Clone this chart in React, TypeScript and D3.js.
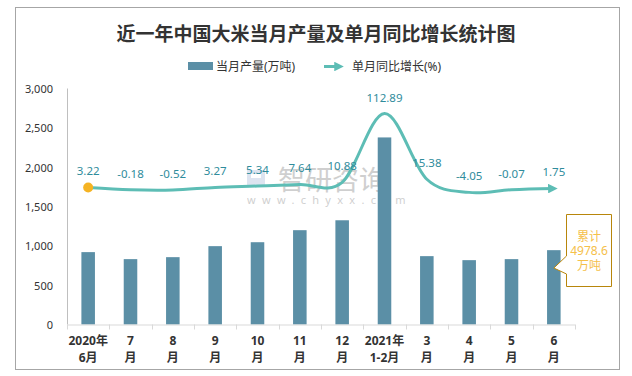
import React from "react";
import * as d3 from "d3";

const categoriesTop = ["2020年", "7", "8", "9", "10", "11", "12", "2021年", "3", "4", "5", "6"];
const categoriesBottom = ["6月", "月", "月", "月", "月", "月", "月", "1-2月", "月", "月", "月", "月"];
const production = [920, 831, 856, 996, 1046, 1199, 1325, 2378, 869, 818, 831, 945];
const growth = [3.22, -0.18, -0.52, 3.27, 5.34, 7.64, 10.88, 112.89, 15.38, -4.05, -0.07, 1.75];
const yTicks = [0, 500, 1000, 1500, 2000, 2500, 3000];

const W = 632;
const H = 376;
const left = 67;
const right = 575;
const top = 88.5;
const bottom = 324.5;

const cjk = "'Noto Sans', 'Noto Sans CJK SC', sans-serif";

export default function App() {
  const idx = production.map((_, i) => String(i));
  const x = d3.scaleBand<string>().domain(idx).range([left, right]).paddingInner(0).paddingOuter(0);
  const y = d3.scaleLinear().domain([0, 3000]).range([bottom, top]);
  const y2 = d3.scaleLinear().domain([-200, 150]).range([bottom, top]);
  const bw = x.bandwidth() * 0.32;
  const cx = (i: number) => (x(String(i)) as number) + x.bandwidth() / 2;

  const line = d3
    .line<number>()
    .x((_, i) => cx(i))
    .y((d) => y2(d))
    .curve(d3.curveCardinal.tension(0));
  const pathD = line(growth) || "";

  const lineColor = "#5dbdb5";
  const labelColor = "#2f8c9c";
  const barColor = "#5b8fa6";

  const lastX = cx(11);

  return (
    <svg width={W} height={H} style={{ position: "absolute", left: 0, top: 0, background: "#fff" }}>
      <defs>
        <marker id="arr" viewBox="0 0 10 10" refX="6" refY="5" markerWidth="3.2" markerHeight="3.2" orient="auto" markerUnits="strokeWidth">
          <path d="M0,0 L10,5 L0,10 Z" fill={lineColor} />
        </marker>
      </defs>
      <rect x={15.5} y={7.5} width={604} height={362} fill="#fff" stroke="#a6a6a6" strokeWidth={1} />

      <text x={316} y={32} textAnchor="middle" dominantBaseline="central" fontFamily="'Noto Sans CJK SC', serif" fontWeight="bold" fontSize={19} fill="#333">
        近一年中国大米当月产量及单月同比增长统计图
      </text>

      {/* legend */}
      <rect x={188} y={62} width={25} height={8} fill={barColor} />
      <text x={216} y={66.5} dominantBaseline="central" fontFamily={cjk} fontSize={12} fill="#333">
        当月产量(万吨)
      </text>
      <line x1={324} y1={66.5} x2={340} y2={66.5} stroke={lineColor} strokeWidth={3} markerEnd="url(#arr)" />
      <text x={352} y={66.5} dominantBaseline="central" fontFamily={cjk} fontSize={12} fill="#333">
        单月同比增长(%)
      </text>

      {/* y axis */}
      <line x1={left + 0.5} y1={top} x2={left + 0.5} y2={bottom} stroke="#bfbfbf" />
      {yTicks.map((t) => (
        <text key={t} x={53} y={y(t)} textAnchor="end" dominantBaseline="central" fontFamily={cjk} fontSize={11} fill="#333">
          {d3.format(",")(t)}
        </text>
      ))}

      {/* watermark */}
      <g opacity={0.35}>
        <rect x={247} y={170} width={18} height={16} fill="#9fb4d6" />
        <rect x={251} y={174} width={10} height={4} fill="#fff" />
        <text x={278} y={178} dominantBaseline="central" fontFamily="'Noto Sans CJK SC', sans-serif" fontSize={27} fill="#777">
          智研咨询
        </text>
        <text x={247} y={199} dominantBaseline="central" fontFamily={cjk} fontSize={11} letterSpacing={6.3} fill="#777">
          www.chyxx.com
        </text>
      </g>

      {/* bars */}
      {production.map((v, i) => (
        <rect key={i} x={cx(i) - bw / 2} y={y(v)} width={bw} height={bottom - y(v)} fill={barColor} />
      ))}

      {/* x axis */}
      <line x1={left} y1={bottom + 0.5} x2={right} y2={bottom + 0.5} stroke="#d9d9d9" />
      {d3.range(13).map((i) => {
        const xx = Math.round(left + i * x.bandwidth()) + 0.5;
        return <line key={i} x1={xx} y1={bottom} x2={xx} y2={bottom + 5} stroke="#d9d9d9" />;
      })}
      {categoriesTop.map((c, i) => (
        <g key={i}>
          <text x={cx(i)} y={340} textAnchor="middle" dominantBaseline="central" fontFamily={cjk} fontWeight="bold" fontSize={12} fill="#333">
            {c}
          </text>
          <text x={cx(i)} y={357} textAnchor="middle" dominantBaseline="central" fontFamily={cjk} fontWeight="bold" fontSize={12} fill="#333">
            {categoriesBottom[i]}
          </text>
        </g>
      ))}

      {/* line */}
      <path d={pathD} fill="none" stroke={lineColor} strokeWidth={3} markerEnd="url(#arr)" />
      <circle cx={cx(0)} cy={y2(growth[0])} r={5} fill="#f5b323" />
      {growth.map((g, i) => (
        <text key={i} x={cx(i)} y={y2(g) - 16.5} textAnchor="middle" dominantBaseline="central" fontFamily={cjk} fontSize={11.5} fill={labelColor}>
          {g.toFixed(2)}
        </text>
      ))}

      {/* callout */}
      <path
        d={`M566.5,214.5 L611.5,214.5 L611.5,286.5 L566.5,286.5 L566.5,274 L${lastX},268 L566.5,256 Z`}
        fill="#fff"
        stroke="#b8860b"
        strokeWidth={1}
      />
      {["累计", "4978.6", "万吨"].map((t, i) => (
        <text key={i} x={589} y={236 + i * 14.5} textAnchor="middle" dominantBaseline="central" fontFamily={cjk} fontSize={12} fill="#f5c04a">
          {t}
        </text>
      ))}
    </svg>
  );
}
